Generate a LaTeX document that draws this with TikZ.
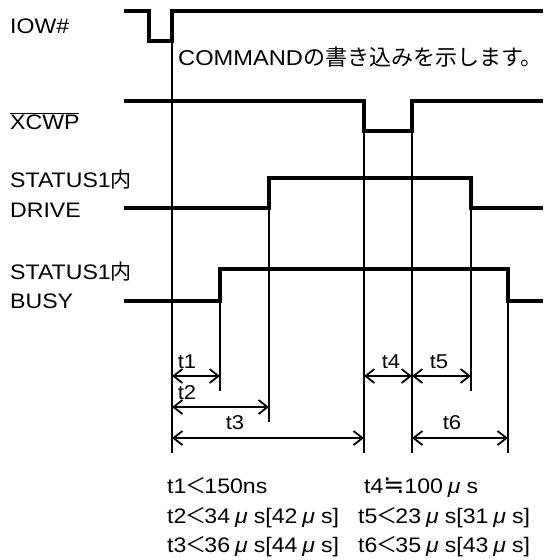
\documentclass[tikz,border=0pt]{standalone}
\usepackage{fontspec}
\setmainfont[FakeStretch=1.1]{Liberation Sans}
\newfontfamily\jp{Noto Sans CJK JP}
\newfontfamily\symf{DejaVu Sans}
\usetikzlibrary{arrows.meta}
\tikzset{
  wave/.style={line width=4pt, line join=miter},
  guide/.style={line width=1.8pt},
  span/.style={line width=1.8pt, {Straight Barb[length=9pt,width=14pt]}-{Straight Barb[length=9pt,width=14pt]}},
  signame/.style={anchor=base west, inner sep=0pt, font=\fontsize{21}{25}\selectfont},
  tname/.style={inner sep=0pt, font=\fontsize{20}{24}\selectfont},
  spec/.style={anchor=base west, inner sep=0pt, font=\fontsize{21}{25}\selectfont}
}
\newcommand\jlt{{\jp\kern-1pt＜\kern-2pt}}
\newcommand\micros{\kern5pt\textit{μ}\kern6pt s}
\begin{document}
\begin{tikzpicture}[x=1pt,y=-1pt]
\useasboundingbox (0,0) rectangle (547,560);

\node[signame] (iow) at (10,33) {IOW\#};
\node[signame] (xcwp) at (10,129) {$\overline{\hbox{XCWP}}$};
\node[signame] (drv1) at (10,187) {STATUS1{\jp 内}};
\node[signame] (drv2) at (10,217) {DRIVE};
\node[signame] (bsy1) at (10,279) {STATUS1{\jp 内}};
\node[signame] (bsy2) at (10,308) {BUSY};
\node[anchor=base west, inner sep=0pt, font=\fontsize{21.5}{26}\selectfont] (cmd) at (178,65) {COMMAND{\jp\fontsize{22}{26}\selectfont の書き込みを示します。}};

\coordinate (iowUp) at (172,41);
\coordinate (cwpDn) at (364,131);
\coordinate (cwpUp) at (412,131);
\coordinate (drvUp) at (269,208);
\coordinate (drvDn) at (471,208);
\coordinate (bsyUp) at (220,301);
\coordinate (bsyDn) at (508,301);

\draw[wave] (124,11) -- (149,11) -- (149,41) -- (iowUp) -- (172,11) -- (543,11);
\draw[wave] (124,101) -- (364,101) -- (cwpDn) -- (cwpUp) -- (412,101) -- (543,101);
\draw[wave] (124,208) -- (drvUp) -- (269,178) -- (471,178) -- (drvDn) -- (543,208);
\draw[wave] (124,301) -- (bsyUp) -- (220,269) -- (508,269) -- (bsyDn) -- (543,301);

\coordinate (rowA) at (0,376);
\coordinate (rowB) at (0,407);
\coordinate (rowC) at (0,438);
\coordinate (lowEnd) at (0,453);

\draw[guide] (iowUp) -- (iowUp |- lowEnd);
\draw[guide] (cwpDn) -- (cwpDn |- lowEnd);
\draw[guide] (cwpUp) -- (cwpUp |- lowEnd);
\draw[guide] (bsyDn) -- (bsyDn |- lowEnd);
\draw[guide] (bsyUp) -- (bsyUp |- 0,391);
\draw[guide] (drvDn) -- (drvDn |- 0,391);
\draw[guide] (drvUp) -- (drvUp |- 0,422);

\draw[span] (iowUp |- rowA) -- (bsyUp |- rowA);
\draw[span] (iowUp |- rowB) -- (drvUp |- rowB);
\draw[span] (iowUp |- rowC) -- (cwpDn |- rowC);
\draw[span] (cwpDn |- rowA) -- (cwpUp |- rowA);
\draw[span] (cwpUp |- rowA) -- (drvDn |- rowA);
\draw[span] (cwpUp |- rowC) -- (bsyDn |- rowC);

\node[tname] (t1) at (187,362) {t1};
\node[tname] (t2) at (187,393) {t2};
\node[tname] (t3) at (235,423) {t3};
\node[tname] (t4) at (391,362) {t4};
\node[tname] (t5) at (439,362) {t5};
\node[tname] (t6) at (452,423) {t6};

\node[spec] (s1) at (167,493) {t1\jlt150ns};
\node[spec] (s4) at (364,493) {t4{\symf\fontsize{25}{25}\selectfont ≒}100\micros};
\node[spec] (s2) at (167,523) {t2\jlt34\micros[42\micros]};
\node[spec] (s5) at (358,523) {t5\jlt23\micros[31\micros]};
\node[spec] (s3) at (167,552) {t3\jlt36\micros[44\micros]};
\node[spec] (s6) at (358,552) {t6\jlt35\micros[43\micros]};
\end{tikzpicture}
\end{document}
